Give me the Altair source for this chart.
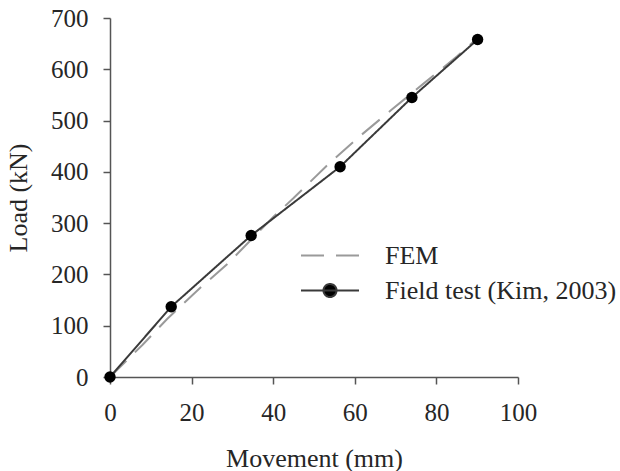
import altair as alt
import pandas as pd

# Field test (Kim, 2003)
field_x = [0, 15.0, 34.6, 56.4, 74.0, 90.1]
field_y = [0, 137, 276, 410, 545, 658]

# FEM
fem_x = [0, 8, 14, 22, 29, 40, 45, 53, 61, 69, 77, 85, 90]
fem_y = [0, 63, 113, 173, 222, 312, 349, 411, 468, 521, 573, 625, 660]

series_names = ["FEM", "Field test (Kim, 2003)"]
x_ticks = [0, 20, 40, 60, 80, 100]
y_ticks = [0, 100, 200, 300, 400, 500, 600, 700]

rows = []
for i, (x, y) in enumerate(zip(fem_x, fem_y)):
    rows.append({"series": series_names[0], "x": x, "y": y, "order": i})
for i, (x, y) in enumerate(zip(field_x, field_y)):
    rows.append({"series": series_names[1], "x": x, "y": y, "order": i})
df = pd.DataFrame(rows)

FONT = "Liberation Serif"
TXT = "#262626"

xenc = alt.X("x:Q", scale=alt.Scale(domain=[0, 100], nice=False),
             axis=alt.Axis(values=x_ticks, title="Movement (mm)", labelPadding=16,
                           labelFlush=False,
                           titleBaseline="alphabetic", titleY=89))
yenc = alt.Y("y:Q", scale=alt.Scale(domain=[0, 700], nice=False),
             axis=alt.Axis(values=y_ticks, title="Load (kN)", labelPadding=15,
                           labelFlush=False,
                           titleBaseline="alphabetic", titleX=-84))

dot_path = "M-2,0H2M-0.45,0a0.45,0.45 0 1,0 0.9,0a0.45,0.45 0 1,0 -0.9,0"
line_path = "M-2,0H2"

legend = alt.Legend(
    title=None, orient="none", legendX=204.5, legendY=222, padding=0,
    symbolSize=841, symbolStrokeWidth=2, labelOffset=39.5, rowPadding=6,
    labelFont=FONT, labelFontSize=26, labelColor=TXT, labelLimit=400,
    labelBaseline="middle",
    symbolType=alt.expr(f"datum.label === 'FEM' ? '{line_path}' : '{dot_path}'"),
    symbolFillColor="#000000",
)

lines = alt.Chart(df).mark_line(strokeWidth=2).encode(
    x=xenc, y=yenc, order="order:Q",
    color=alt.Color("series:N", scale=alt.Scale(domain=series_names, range=["#9a9a9a", "#3a3a3a"]),
                    legend=legend),
    strokeDash=alt.StrokeDash("series:N", scale=alt.Scale(domain=series_names, range=[[23, 12], [1, 0]]),
                              legend=legend),
)

points = alt.Chart(df).transform_filter(
    alt.datum.series == series_names[1]
).mark_point(filled=True, size=130, color="#000000", opacity=1).encode(x=xenc, y=yenc)

chart = alt.layer(lines, points).properties(
    width=408, height=359,
    autosize=alt.AutoSizeParams(type="none"),
    padding={"left": 110, "top": 18, "right": 102, "bottom": 94},
    background="white",
).configure_view(stroke=None).configure_axis(
    grid=False, domainColor="#555555", tickColor="#555555", domainWidth=1.5, tickWidth=1.5,
    tickSize=7, labelFont=FONT, labelFontSize=25, labelColor=TXT,
    titleFont=FONT, titleFontSize=26, titleFontWeight="normal", titleColor=TXT,
)

chart.save("out.html", embed_options={"renderer": "svg", "actions": False})
